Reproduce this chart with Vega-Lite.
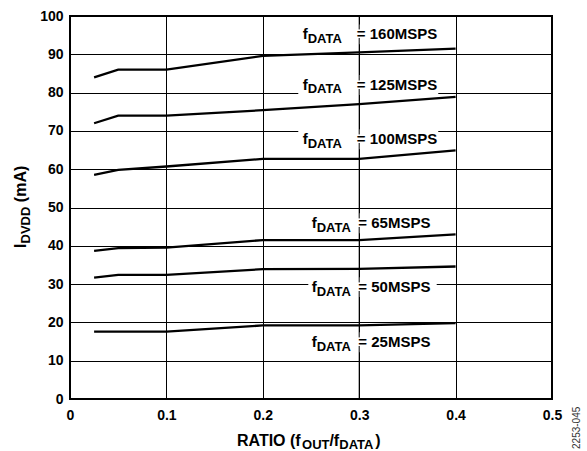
{
  "$schema": "https://vega.github.io/schema/vega-lite/v6.json",
  "width": 482,
  "height": 383,
  "autosize": "none",
  "padding": {"left": 70, "top": 16, "right": 35, "bottom": 52},
  "background": "white",
  "config": {
    "view": {"stroke": "#000", "strokeWidth": 2},
    "font": "Liberation Sans",
    "axis": {
      "domain": false,
      "ticks": false,
      "grid": true,
      "gridColor": "#000",
      "gridWidth": 1,
      "gridOpacity": 1,
      "labelFont": "Liberation Sans",
      "labelFontWeight": "bold",
      "labelFontSize": 14,
      "labelColor": "#000",
      "labelFlush": false,
      "labelOverlap": false,
      "title": null
    }
  },
  "datasets": {
    "curves": [
      {"s": "160", "x": 0.025, "y": 84.0}, {"s": "160", "x": 0.05, "y": 86.0}, {"s": "160", "x": 0.1, "y": 86.0}, {"s": "160", "x": 0.2, "y": 89.6}, {"s": "160", "x": 0.3, "y": 90.5}, {"s": "160", "x": 0.4, "y": 91.5},
      {"s": "125", "x": 0.025, "y": 72.0}, {"s": "125", "x": 0.05, "y": 74.0}, {"s": "125", "x": 0.1, "y": 74.0}, {"s": "125", "x": 0.2, "y": 75.4}, {"s": "125", "x": 0.3, "y": 77.0}, {"s": "125", "x": 0.4, "y": 78.9},
      {"s": "100", "x": 0.025, "y": 58.5}, {"s": "100", "x": 0.05, "y": 59.8}, {"s": "100", "x": 0.1, "y": 60.7}, {"s": "100", "x": 0.2, "y": 62.7}, {"s": "100", "x": 0.3, "y": 62.7}, {"s": "100", "x": 0.4, "y": 64.9},
      {"s": "65", "x": 0.025, "y": 38.7}, {"s": "65", "x": 0.05, "y": 39.4}, {"s": "65", "x": 0.1, "y": 39.5}, {"s": "65", "x": 0.2, "y": 41.5}, {"s": "65", "x": 0.3, "y": 41.5}, {"s": "65", "x": 0.4, "y": 43.0},
      {"s": "50", "x": 0.025, "y": 31.7}, {"s": "50", "x": 0.05, "y": 32.4}, {"s": "50", "x": 0.1, "y": 32.4}, {"s": "50", "x": 0.2, "y": 33.9}, {"s": "50", "x": 0.3, "y": 34.0}, {"s": "50", "x": 0.4, "y": 34.6},
      {"s": "25", "x": 0.025, "y": 17.6}, {"s": "25", "x": 0.05, "y": 17.6}, {"s": "25", "x": 0.1, "y": 17.6}, {"s": "25", "x": 0.2, "y": 19.2}, {"s": "25", "x": 0.3, "y": 19.2}, {"s": "25", "x": 0.4, "y": 19.8}
    ],
    "boxes": [
      {"x": 0.2368, "x2": 0.382, "y": 92.6, "y2": 97.8},
      {"x": 0.2368, "x2": 0.382, "y": 79.4, "y2": 84.6},
      {"x": 0.2368, "x2": 0.382, "y": 65.2, "y2": 70.4},
      {"x": 0.2472, "x2": 0.3804, "y": 43.3, "y2": 48.5},
      {"x": 0.2472, "x2": 0.3804, "y": 26.6, "y2": 31.8},
      {"x": 0.2472, "x2": 0.3804, "y": 12.2, "y2": 17.4}
    ],
    "vrule": [{"x": 0.3, "y": 0, "y2": 100}],
    "texts": [
      {"role": "lab", "x": 0.2414, "y": 95.2, "t": "f"}, {"role": "labsub", "x": 0.2465, "y": 95.2, "t": "DATA"}, {"role": "lab", "x": 0.2975, "y": 95.2, "t": "= 160MSPS"},
      {"role": "lab", "x": 0.2414, "y": 82.0, "t": "f"}, {"role": "labsub", "x": 0.2465, "y": 82.0, "t": "DATA"}, {"role": "lab", "x": 0.2975, "y": 82.0, "t": "= 125MSPS"},
      {"role": "lab", "x": 0.2414, "y": 67.8, "t": "f"}, {"role": "labsub", "x": 0.2465, "y": 67.8, "t": "DATA"}, {"role": "lab", "x": 0.2975, "y": 67.8, "t": "= 100MSPS"},
      {"role": "lab", "x": 0.2507, "y": 45.9, "t": "f"}, {"role": "labsub", "x": 0.2559, "y": 45.9, "t": "DATA"}, {"role": "lab", "x": 0.2991, "y": 45.9, "t": "= 65MSPS"},
      {"role": "lab", "x": 0.2507, "y": 29.2, "t": "f"}, {"role": "labsub", "x": 0.2559, "y": 29.2, "t": "DATA"}, {"role": "lab", "x": 0.2991, "y": 29.2, "t": "= 50MSPS"},
      {"role": "lab", "x": 0.2507, "y": 14.8, "t": "f"}, {"role": "labsub", "x": 0.2559, "y": 14.8, "t": "DATA"}, {"role": "lab", "x": 0.2991, "y": 14.8, "t": "= 25MSPS"},
      {"role": "xt", "x": 0.1732, "y": -10.84, "t": "RATIO (f"}, {"role": "xtsub", "x": 0.2407, "y": -10.84, "t": "OUT"}, {"role": "xt", "x": 0.2691, "y": -10.84, "t": "/f"}, {"role": "xtsub", "x": 0.2793, "y": -10.84, "t": "DATA"}, {"role": "xt", "x": 0.3167, "y": -10.84, "t": ")"},
      {"role": "yt", "x": -0.0508, "y": 39.4, "t": "I"}, {"role": "ytsub", "x": -0.0508, "y": 40.6, "t": "DVDD"}, {"role": "yt", "x": -0.0508, "y": 51.4, "t": "(mA)"},
      {"role": "code", "x": 0.526, "y": -13.05, "t": "2253-045"}
    ]
  },
  "encoding": {
    "x": {"field": "x", "type": "quantitative", "scale": {"domain": [0, 0.5], "nice": false, "zero": false},
      "axis": {"values": [0, 0.1, 0.2, 0.3, 0.4, 0.5], "format": "~g", "labelPadding": 9}},
    "y": {"field": "y", "type": "quantitative", "scale": {"domain": [0, 100], "nice": false, "zero": false},
      "axis": {"values": [0, 10, 20, 30, 40, 50, 60, 70, 80, 90, 100], "format": "d", "labelPadding": 7}}
  },
  "layer": [
    {"data": {"name": "boxes"}, "mark": {"type": "rect", "fill": "white", "stroke": null},
      "encoding": {"x2": {"field": "x2"}, "y2": {"field": "y2"}}},
    {"data": {"name": "vrule"}, "mark": {"type": "rule", "color": "#000", "strokeWidth": 1},
      "encoding": {"y2": {"field": "y2"}}},
    {"data": {"name": "curves"}, "mark": {"type": "line", "color": "#000", "strokeWidth": 2.3},
      "encoding": {"detail": {"field": "s"}}},
    {"data": {"name": "texts"}, "transform": [{"filter": "datum.role == 'lab'"}],
      "mark": {"type": "text", "align": "left", "baseline": "middle", "fontSize": 15, "fontWeight": "bold", "fill": "white", "stroke": "white", "strokeWidth": 3},
      "encoding": {"text": {"field": "t"}}},
    {"data": {"name": "texts"}, "transform": [{"filter": "datum.role == 'lab'"}],
      "mark": {"type": "text", "align": "left", "baseline": "middle", "fontSize": 15, "fontWeight": "bold", "color": "#000"},
      "encoding": {"text": {"field": "t"}}},
    {"data": {"name": "texts"}, "transform": [{"filter": "datum.role == 'labsub'"}],
      "mark": {"type": "text", "align": "left", "baseline": "middle", "fontSize": 13, "fontWeight": "bold", "color": "#000", "dy": 4.5},
      "encoding": {"text": {"field": "t"}}},
    {"data": {"name": "texts"}, "transform": [{"filter": "datum.role == 'xt'"}],
      "mark": {"type": "text", "align": "left", "baseline": "middle", "fontSize": 16, "fontWeight": "bold", "color": "#000"},
      "encoding": {"text": {"field": "t"}}},
    {"data": {"name": "texts"}, "transform": [{"filter": "datum.role == 'xtsub'"}],
      "mark": {"type": "text", "align": "left", "baseline": "middle", "fontSize": 13, "fontWeight": "bold", "color": "#000", "dy": 4.5},
      "encoding": {"text": {"field": "t"}}},
    {"data": {"name": "texts"}, "transform": [{"filter": "datum.role == 'yt'"}],
      "mark": {"type": "text", "align": "left", "baseline": "middle", "angle": 270, "fontSize": 16, "fontWeight": "bold", "color": "#000"},
      "encoding": {"text": {"field": "t"}}},
    {"data": {"name": "texts"}, "transform": [{"filter": "datum.role == 'ytsub'"}],
      "mark": {"type": "text", "align": "left", "baseline": "middle", "angle": 270, "fontSize": 13, "fontWeight": "bold", "color": "#000", "dy": 4.5},
      "encoding": {"text": {"field": "t"}}},
    {"data": {"name": "texts"}, "transform": [{"filter": "datum.role == 'code'"}],
      "mark": {"type": "text", "align": "left", "baseline": "middle", "angle": 270, "fontSize": 10, "color": "#333"},
      "encoding": {"text": {"field": "t"}}}
  ]
}
